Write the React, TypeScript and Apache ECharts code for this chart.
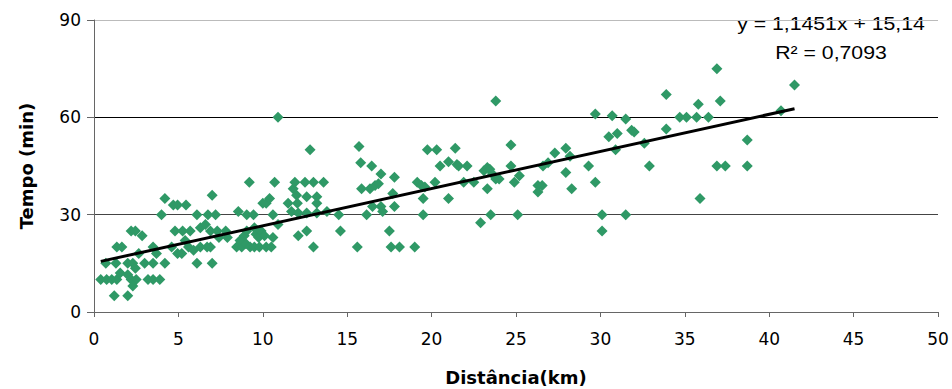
import React, { useEffect, useRef } from "react";
import * as echarts from "echarts";

// Tick labels
const xTicks = [0, 5, 10, 15, 20, 25, 30, 35, 40, 45, 50];
const yTicks = [0, 30, 60, 90];

// Observed points: [distância (km), tempo (min)]
const pontos0a5: [number, number][] = [
  [0.4, 10], [0.75, 10], [1.05, 10], [1.35, 10], [0.7, 15], [1.3, 15], [1.2, 5], [2.0, 5],
  [1.35, 20], [1.65, 20], [1.55, 12], [2.0, 15], [2.3, 15], [2.0, 11.5], [2.2, 10], [2.5, 10],
  [2.3, 8], [2.45, 13.5], [2.2, 25], [2.45, 25], [2.85, 23.5], [2.65, 18], [3.0, 15], [3.5, 15],
  [3.2, 10], [3.5, 10], [3.9, 10], [3.5, 20], [3.7, 18], [4.0, 30], [4.2, 35], [4.2, 15],
  [4.6, 20], [4.7, 33], [4.95, 33], [4.8, 25],
];
const pontos5a10: [number, number][] = [
  [5.25, 25], [4.95, 18], [5.2, 18], [5.45, 33], [5.7, 25], [5.4, 22], [5.6, 20], [5.9, 19],
  [6.1, 30], [6.1, 15], [6.3, 20], [6.3, 26], [6.6, 27], [6.7, 20], [6.9, 20], [6.75, 30],
  [7.0, 36], [6.9, 25], [7.3, 25], [7.2, 30], [7.0, 15], [7.4, 23], [7.8, 25], [7.9, 23],
  [8.45, 20], [8.75, 20], [8.65, 22], [8.55, 31], [9.05, 30], [8.9, 23.5], [9.0, 21], [9.2, 40],
  [9.45, 30], [9.05, 25], [9.5, 26], [9.6, 24], [9.75, 23], [9.25, 20], [9.5, 20], [9.8, 20],
];
const pontos10a20: [number, number][] = [
  [10.2, 20], [10.5, 20], [9.9, 25], [10.0, 33.5], [10.2, 33.5], [10.4, 35], [10.6, 30], [10.7, 40],
  [10.6, 23], [10.1, 23.5], [10.9, 60], [10.9, 27], [11.5, 33.5], [11.7, 31], [11.8, 38], [11.9, 40],
  [12.5, 40], [12.0, 36], [12.1, 23.5], [12.05, 33.5], [12.1, 30.5], [12.6, 30.5], [12.6, 25], [12.6, 35.5],
  [13.0, 40], [12.8, 50], [13.0, 20], [13.2, 35.5], [13.2, 33.5], [13.2, 30.5], [13.6, 40], [13.8, 31],
  [14.5, 30], [14.6, 25], [15.6, 20], [15.7, 51], [15.8, 46], [15.85, 38], [16.15, 30], [16.35, 38],
  [16.45, 45], [16.5, 32.5], [16.65, 39], [16.85, 39.5], [17.0, 42.5], [17.0, 32.5], [17.1, 31], [17.5, 25],
  [17.6, 20], [17.8, 32.5], [17.7, 36.5], [17.8, 41.5], [18.1, 20], [19.0, 20], [19.15, 40], [19.4, 39],
  [19.5, 35], [19.5, 30], [19.6, 38.5], [19.75, 50],
];
const pontos20a30: [number, number][] = [
  [20.2, 40], [20.3, 50], [20.5, 45], [21.0, 35], [21.0, 46.3], [21.5, 45.5], [21.4, 50.5], [21.6, 45],
  [21.9, 40], [22.1, 45], [22.5, 40], [22.9, 27.5], [23.1, 43.5], [23.3, 44.5], [23.45, 44], [23.3, 38],
  [23.5, 30], [23.6, 42.5], [23.8, 41], [23.8, 65], [24.0, 41], [24.7, 51.5], [24.7, 45], [24.9, 40],
  [25.1, 30], [25.2, 42], [26.3, 39], [26.3, 37], [26.55, 39], [26.6, 45], [26.9, 46], [27.3, 49],
  [27.95, 50.5], [27.95, 43], [28.2, 48], [28.3, 38], [29.3, 45], [29.7, 61], [29.7, 40],
];
const pontos30a42: [number, number][] = [
  [30.1, 30], [30.1, 25], [30.5, 54], [30.7, 60.5], [30.9, 50], [31.0, 55], [31.5, 59.5], [31.5, 30],
  [31.85, 56], [32.0, 55.5], [32.6, 52], [32.9, 45], [33.9, 67], [33.9, 56.4], [34.7, 60], [35.1, 60],
  [35.7, 60], [35.8, 64], [35.9, 35], [36.4, 60], [36.9, 75], [36.9, 45], [37.4, 45], [37.1, 65],
  [38.7, 53], [38.7, 45], [40.7, 62], [41.5, 70],
];

// Linear trend (as reported on the chart)
const slope = 1.1451;
const intercept = 15.14;
const equationText = "y = 1,1451x + 15,14";
const r2Text = "R\u00B2 = 0,7093";

export default function App() {
  const ref = useRef<HTMLDivElement>(null);

  useEffect(() => {
    if (!ref.current) return;
    const chart = echarts.init(ref.current, null, { renderer: "svg" });
    const pontos = [...pontos0a5, ...pontos5a10, ...pontos10a20, ...pontos20a30, ...pontos30a42];
    const xs = pontos.map((p) => p[0]);
    const xmin = Math.min(...xs);
    const xmax = Math.max(...xs);
    const trend = [
      [xmin, slope * xmin + intercept],
      [xmax, slope * xmax + intercept],
    ];

    const tickFont = { fontFamily: "DejaVu Sans", fontSize: 17, color: "#000" };
    const nameFont = { fontFamily: "DejaVu Sans", fontWeight: "bold" as const, fontSize: 18, color: "#000" };

    chart.setOption({
      animation: false,
      grid: { left: 94, right: 14, top: 20, bottom: 77, outerBoundsMode: "none" },
      xAxis: {
        type: "value",
        min: xTicks[0],
        max: xTicks[xTicks.length - 1],
        interval: 5,
        axisLine: { show: true, lineStyle: { color: "#666", width: 1 } },
        axisTick: { show: true, length: 5, lineStyle: { color: "#666" } },
        axisLabel: { ...tickFont, margin: 18 },
        splitLine: { show: false },
        name: "Distância(km)",
        nameLocation: "middle",
        nameGap: 56,
        nameTextStyle: nameFont,
      },
      yAxis: {
        type: "value",
        min: yTicks[0],
        max: yTicks[yTicks.length - 1],
        interval: 30,
        axisLine: { show: true, lineStyle: { color: "#666", width: 1 } },
        axisTick: { show: true, length: 7, lineStyle: { color: "#666" } },
        axisLabel: { ...tickFont, margin: 13 },
        splitLine: { show: true, lineStyle: { color: ["#888", "#444", "#000", "#bbb"], width: 1 } },
        name: "Tempo (min)",
        nameLocation: "middle",
        nameRotate: 90,
        nameGap: 59,
        nameTextStyle: nameFont,
      },
      series: [
        {
          type: "scatter",
          data: pontos,
          symbol: "diamond",
          symbolSize: 11,
          itemStyle: { color: "#2f9966", opacity: 1 },
          z: 2,
        },
        {
          type: "line",
          data: trend,
          showSymbol: false,
          symbol: "none",
          lineStyle: { color: "#000", width: 3 },
          z: 3,
          silent: true,
        },
      ],
      graphic: [
        {
          type: "text",
          x: 831,
          y: 24,
          scaleX: 1.18,
          style: {
            text: equationText,
            fontFamily: "Liberation Sans",
            fontSize: 18,
            fill: "#000",
            align: "center",
            verticalAlign: "middle",
          },
        },
        {
          type: "text",
          x: 831,
          y: 53,
          scaleX: 1.18,
          style: {
            text: r2Text,
            fontFamily: "Liberation Sans",
            fontSize: 18,
            fill: "#000",
            align: "center",
            verticalAlign: "middle",
          },
        },
      ],
    });

    return () => chart.dispose();
  }, []);

  return (
    <div
      ref={ref}
      style={{ position: "absolute", left: 0, top: 0, width: 952, height: 389, background: "#fff" }}
    />
  );
}
